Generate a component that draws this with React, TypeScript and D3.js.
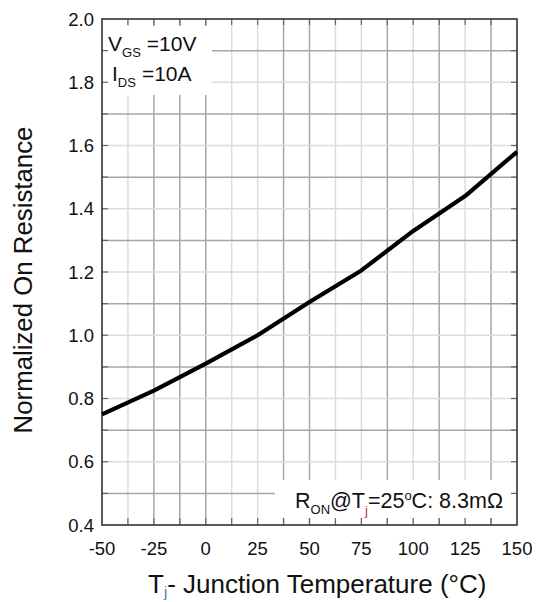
import React from "react";
import * as d3 from "d3";

// Junction temperature (°C) and normalized on-resistance
const temperatures = [-50, -25, 0, 25, 50, 75, 100, 125, 150];
const normRon = [0.75, 0.825, 0.91, 1.0, 1.105, 1.205, 1.33, 1.44, 1.58];

const xTicks = [-50, -25, 0, 25, 50, 75, 100, 125, 150];
const yTicks = [0.4, 0.6, 0.8, 1.0, 1.2, 1.4, 1.6, 1.8, 2.0];
const xGrid = [-37.5, -25, -12.5, 0, 12.5, 25, 37.5, 50, 62.5, 75, 87.5, 100, 112.5, 125, 137.5];
const yGrid = [0.5, 0.6, 0.7, 0.8, 0.9, 1.0, 1.1, 1.2, 1.3, 1.4, 1.5, 1.6, 1.7, 1.8, 1.9];
// grid lines drawn in the lighter shade
const xGridLight = [-37.5, 12.5, 25, 62.5, 75, 100, 125];

const W = 537;
const H = 602;
const M = { left: 102, right: 517, top: 19, bottom: 525 };
const FONT = "'Liberation Sans', Arial, Helvetica, sans-serif";

export default function App() {
  const x = d3.scaleLinear().domain([-50, 150]).range([M.left, M.right]);
  const y = d3.scaleLinear().domain([0.4, 2.0]).range([M.bottom, M.top]);
  const line = d3
    .line<number>()
    .x((_, i) => x(temperatures[i]))
    .y((d) => y(d))
    .curve(d3.curveLinear);

  const light = "#dcdcdc";
  const dark = "#a6a6a6";
  const isMajorY = (v: number) => Math.abs(Math.round(v * 10) % 2) === 0;

  return (
    <svg
      width={W}
      height={H}
      style={{ position: "absolute", left: 0, top: 0, background: "#fff" }}
      fontFamily={FONT}
    >
      <rect x={0} y={0} width={W} height={H} fill="#fff" />
      {/* grid */}
      {xGrid.map((v) => (
        <line
          key={"gx" + v}
          x1={x(v)}
          x2={x(v)}
          y1={M.top}
          y2={M.bottom}
          stroke={xGridLight.includes(v) ? light : dark}
          strokeWidth={1.5}
        />
      ))}
      {yGrid.map((v) => (
        <line
          key={"gy" + v}
          x1={M.left}
          x2={M.right}
          y1={y(v)}
          y2={y(v)}
          stroke={isMajorY(v) ? light : dark}
          strokeWidth={1.5}
        />
      ))}

      {/* annotation boxes cover the grid */}
      <rect x={M.left + 1} y={26} width={109} height={69} fill="#fff" />
      <rect x={275} y={480} width={M.right - 275 - 1} height={38} fill="#fff" />

      {/* inward ticks on every side */}
      {xGrid.map((v) => (
        <g key={"tx" + v} stroke="#666" strokeWidth={1.2}>
          <line x1={x(v)} x2={x(v)} y1={M.top} y2={M.top + 6} />
          <line x1={x(v)} x2={x(v)} y1={M.bottom} y2={M.bottom - 7} />
        </g>
      ))}
      {yGrid.map((v) => (
        <g key={"ty" + v} stroke="#666" strokeWidth={1.2}>
          <line x1={M.left} x2={M.left + 6} y1={y(v)} y2={y(v)} />
          <line x1={M.right} x2={M.right - 6} y1={y(v)} y2={y(v)} />
        </g>
      ))}

      {/* frame */}
      <rect
        x={M.left}
        y={M.top}
        width={M.right - M.left}
        height={M.bottom - M.top}
        fill="none"
        stroke="#333"
        strokeWidth={1.6}
      />

      {/* curve */}
      <path
        d={line(normRon) || ""}
        fill="none"
        stroke="#000"
        strokeWidth={4.2}
        strokeLinejoin="round"
      />

      {/* tick labels */}
      {xTicks.map((v) => (
        <text key={"lx" + v} x={x(v)} y={555} fontSize={18.5} textAnchor="middle" fill="#111">
          {v}
        </text>
      ))}
      {yTicks.map((v) => (
        <text key={"ly" + v} x={94} y={y(v) + 6.5} fontSize={18.5} textAnchor="end" fill="#111">
          {v.toFixed(1)}
        </text>
      ))}

      {/* axis titles */}
      <text
        transform={`translate(32, 280) rotate(-90)`}
        fontSize={25.8}
        textAnchor="middle"
        fill="#111"
      >
        Normalized On Resistance
      </text>
      <text x={148} y={593} fontSize={26} fill="#111">
        T
        <tspan fontSize={15} fill="#4a7fb5" dy={4}>j</tspan>
        <tspan dy={-4}>- Junction Temperature (°C)</tspan>
      </text>

      {/* conditions */}
      <text x={108} y={51} fontSize={21} fill="#111">
        V<tspan fontSize={13} dy={6}>GS</tspan>
        <tspan dy={-6} dx={6}>=10V</tspan>
      </text>
      <text x={112} y={81} fontSize={21} fill="#111">
        I<tspan fontSize={13} dy={6}>DS</tspan>
        <tspan dy={-6} dx={6}>=10A</tspan>
      </text>
      <text x={295} y={508} fontSize={21.5} fill="#111">
        R<tspan fontSize={13} dy={6}>ON</tspan>
        <tspan dy={-6}>@T</tspan>
        <tspan fontSize={13} dy={7} fill="#a33">j</tspan>
        <tspan dy={-7}>=25</tspan>
        <tspan fontSize={13} dy={-8}>o</tspan>
        <tspan dy={8}>C: 8.3mΩ</tspan>
      </text>
    </svg>
  );
}
